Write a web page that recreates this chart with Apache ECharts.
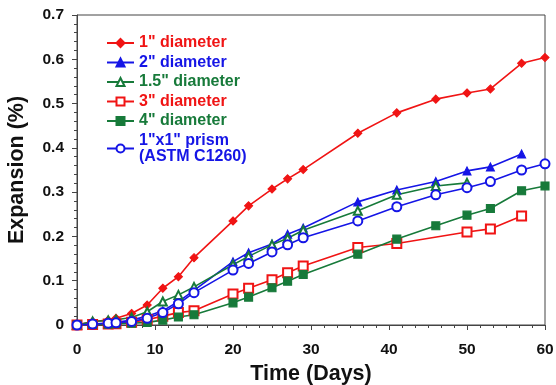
<!DOCTYPE html>
<html>
<head>
<meta charset="utf-8">
<script src="https://cdn.jsdelivr.net/npm/echarts@6/dist/echarts.min.js"></script>
<style>html,body{margin:0;padding:0;background:#fff}#c{width:556px;height:385px}</style>
</head>
<body>
<div id="c"></div>
<script>
var days = [0, 2, 4, 5, 7, 9, 11, 13, 15, 20, 22, 25, 27, 29, 36, 41, 46, 50, 53, 57, 60];
var d1 = [0, 0.008, 0.011, 0.015, 0.026, 0.045, 0.083, 0.109, 0.152, 0.235, 0.269, 0.307, 0.330, 0.351, 0.433, 0.479, 0.510, 0.524, 0.533, 0.591, 0.604];
var d2 = [0, 0.002, 0.004, 0.006, 0.011, 0.020, 0.032, 0.053, 0.078, 0.143, 0.163, 0.183, 0.205, 0.219, 0.278, 0.305, 0.324, 0.348, 0.357, 0.386];
var d15 = [0, 0.008, 0.010, 0.012, 0.017, 0.030, 0.053, 0.068, 0.086, 0.136, 0.155, 0.181, 0.196, 0.214, 0.258, 0.294, 0.314, 0.321];
var days3 = [0, 2, 4, 5, 7, 9, 11, 13, 15, 20, 22, 25, 27, 29, 36, 41, 50, 53, 57];
var d3 = [0, 0.001, 0.002, 0.003, 0.006, 0.012, 0.020, 0.028, 0.032, 0.070, 0.083, 0.102, 0.118, 0.133, 0.175, 0.184, 0.210, 0.217, 0.246];
var d4 = [0, 0.001, 0.002, 0.003, 0.004, 0.006, 0.011, 0.018, 0.023, 0.050, 0.063, 0.084, 0.099, 0.114, 0.160, 0.194, 0.224, 0.248, 0.263, 0.303, 0.314];
var dP = [0, 0.002, 0.004, 0.005, 0.008, 0.015, 0.028, 0.048, 0.073, 0.124, 0.139, 0.165, 0.181, 0.197, 0.235, 0.267, 0.294, 0.310, 0.324, 0.350, 0.364];
var names = ['1" diameter', '2" diameter', '1.5" diameter', '3" diameter', '4" diameter', '1"x1" prism\n(ASTM C1260)'];
var xTicks = [0, 10, 20, 30, 40, 50, 60];
var yTicks = [0, 0.1, 0.2, 0.3, 0.4, 0.5, 0.6, 0.7];

var RED = '#f01414', BLUE = '#1515e6', GREEN = '#177a3a';
function pairs(xs, ys) { return ys.map(function (v, i) { return [xs[i], v]; }); }

var specs = [
  { name: names[0], data: pairs(days, d1), color: RED, symbol: 'diamond', size: 8 },
  { name: names[1], data: pairs(days, d2), color: BLUE, symbol: 'triangle', size: 8 },
  { name: names[2], data: pairs(days, d15), color: GREEN, symbol: 'emptyTriangle', size: 8 },
  { name: names[3], data: pairs(days3, d3), color: RED, symbol: 'emptyRect', size: 9 },
  { name: names[4], data: pairs(days, d4), color: GREEN, symbol: 'rect', size: 8 },
  { name: names[5], data: pairs(days, dP), color: BLUE, symbol: 'emptyCircle', size: 9 }
];

var series = specs.map(function (s) {
  return {
    name: s.name, type: 'line', data: s.data, symbol: s.symbol, symbolSize: s.size,
    lineStyle: { color: s.color, width: 1.6 },
    itemStyle: { color: s.color, borderColor: s.color, borderWidth: 1.1 },
    emphasis: { disabled: true }, animation: false
  };
});

var FONT = '"Liberation Sans", Arial, sans-serif';
var chart = echarts.init(document.getElementById('c'), null, { renderer: 'canvas' });
chart.setOption({
  animation: false,
  backgroundColor: '#fff',
  grid: { left: 77, right: 11, top: 15, bottom: 60, show: true, borderColor: '#444', borderWidth: 1,
    containLabel: false, outerBoundsMode: 'none' },
  legend: {
    orient: 'vertical', left: 101, top: 30, itemWidth: 27, itemHeight: 10, itemGap: 3.5,
    data: specs.map(function (s) { return { name: s.name, textStyle: { color: s.color } }; }),
    textStyle: { fontFamily: FONT, fontWeight: 'bold', fontSize: 16, lineHeight: 16 },
    selectedMode: false
  },
  xAxis: {
    type: 'value', min: xTicks[0], max: xTicks[xTicks.length - 1], interval: 10,
    name: 'Time (Days)', nameLocation: 'middle', nameGap: 35,
    nameTextStyle: { fontFamily: FONT, fontWeight: 'bold', fontSize: 21.5, color: '#111' },
    axisLine: { lineStyle: { color: '#444', width: 1 } },
    axisTick: { length: 5, lineStyle: { color: '#444' } },
    minorTick: { show: true, splitNumber: 6, length: 3, lineStyle: { color: '#444' } },
    splitLine: { show: false },
    axisLabel: { fontFamily: FONT, fontWeight: 'bold', fontSize: 15.5, color: '#111', margin: 17 }
  },
  yAxis: {
    type: 'value', min: yTicks[0], max: yTicks[yTicks.length - 1], interval: 0.1,
    name: 'Expansion (%)', nameLocation: 'middle', nameGap: 49,
    nameTextStyle: { fontFamily: FONT, fontWeight: 'bold', fontSize: 21.5, color: '#111' },
    axisLine: { show: true, lineStyle: { color: '#444', width: 1 } },
    axisTick: { show: true, length: 5, lineStyle: { color: '#444' } },
    minorTick: { show: true, splitNumber: 5, length: 3, lineStyle: { color: '#444' } },
    splitLine: { show: false },
    axisLabel: { fontFamily: FONT, fontWeight: 'bold', fontSize: 15.5, color: '#111', margin: 13,
      formatter: function (v) { return String(Math.round(v * 10) / 10); } }
  },
  series: series
});
</script>
</body>
</html>
